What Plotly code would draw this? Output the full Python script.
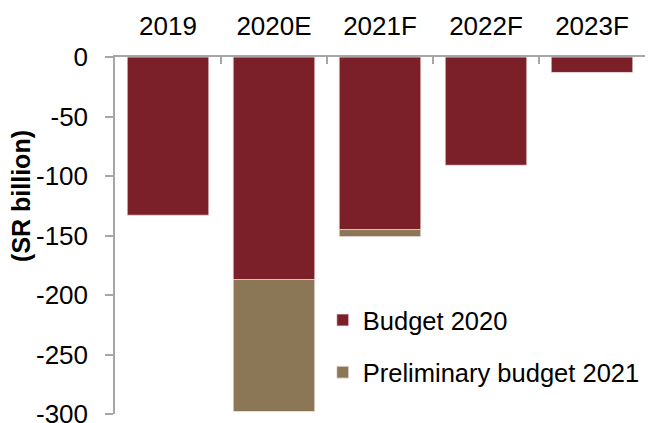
import plotly.graph_objects as go

# Fiscal balance, SR billion
years = ["2019", "2020E", "2021F", "2022F", "2023F"]
budget_2020 = [-133, -187, -145, -91, -13]
prelim_budget_2021 = [None, -298, -151, None, None]

y_ticks = [0, -50, -100, -150, -200, -250, -300]
y_tick_text = ["0", "-50", "-100", "-150", "-200", "-250", "-300"]

RED = "#7b2029"
BROWN = "#8b7755"
AXIS = "#a6a6a6"
FONT = "Liberation Sans, Arial, sans-serif"
SIZE = 26

fig = go.Figure()

# Preliminary 2021 figures sit behind the Budget 2020 bars
fig.add_trace(go.Bar(
    x=years, y=prelim_budget_2021, name="Preliminary budget 2021",
    marker=dict(color=BROWN, line=dict(color="#f3ecec", width=0.8)),
    legendrank=2, legendgroup="b",
))
fig.add_trace(go.Bar(
    x=years, y=budget_2020, name="Budget 2020",
    marker=dict(color=RED, line=dict(color="#f3e6e6", width=0.8)),
    legendrank=1, legendgroup="a",
))

fig.update_layout(
    width=648, height=423,
    margin=dict(l=115, r=3, t=57, b=9),
    paper_bgcolor="white", plot_bgcolor="white",
    barmode="overlay", bargap=0.23,
    font=dict(family=FONT, size=SIZE, color="#000000"),
    showlegend=True,
    legend=dict(
        x=0.392, y=0.328, xanchor="left", yanchor="top",
        bgcolor="rgba(0,0,0,0)", tracegroupgap=16, borderwidth=0,
        font=dict(family=FONT, size=25.5, color="#000000"),
    ),
    xaxis=dict(
        side="top", type="category", automargin=False,
        showline=True, linecolor=AXIS, linewidth=1.5,
        ticks="inside", tickson="boundaries", ticklen=7,
        tickcolor=AXIS, tickwidth=1.5,
        showgrid=False, zeroline=False,
        ticklabelstandoff=10,
    ),
    yaxis=dict(
        range=[-300, 0], tickvals=y_ticks, ticktext=y_tick_text,
        automargin=False,
        showline=True, linecolor=AXIS, linewidth=1.5,
        ticks="outside", ticklen=8, tickcolor=AXIS, tickwidth=1.5,
        showgrid=False, zeroline=False,
        ticklabelstandoff=12, ticklabeloverflow="allow",
    ),
    annotations=[dict(
        text="<b>(SR billion)</b>", textangle=-90,
        xref="paper", yref="paper", x=-0.176, y=0.61,
        xanchor="center", yanchor="middle", showarrow=False,
        font=dict(family=FONT, size=25, color="#000000"),
    )],
)

fig.write_html("out.html")
